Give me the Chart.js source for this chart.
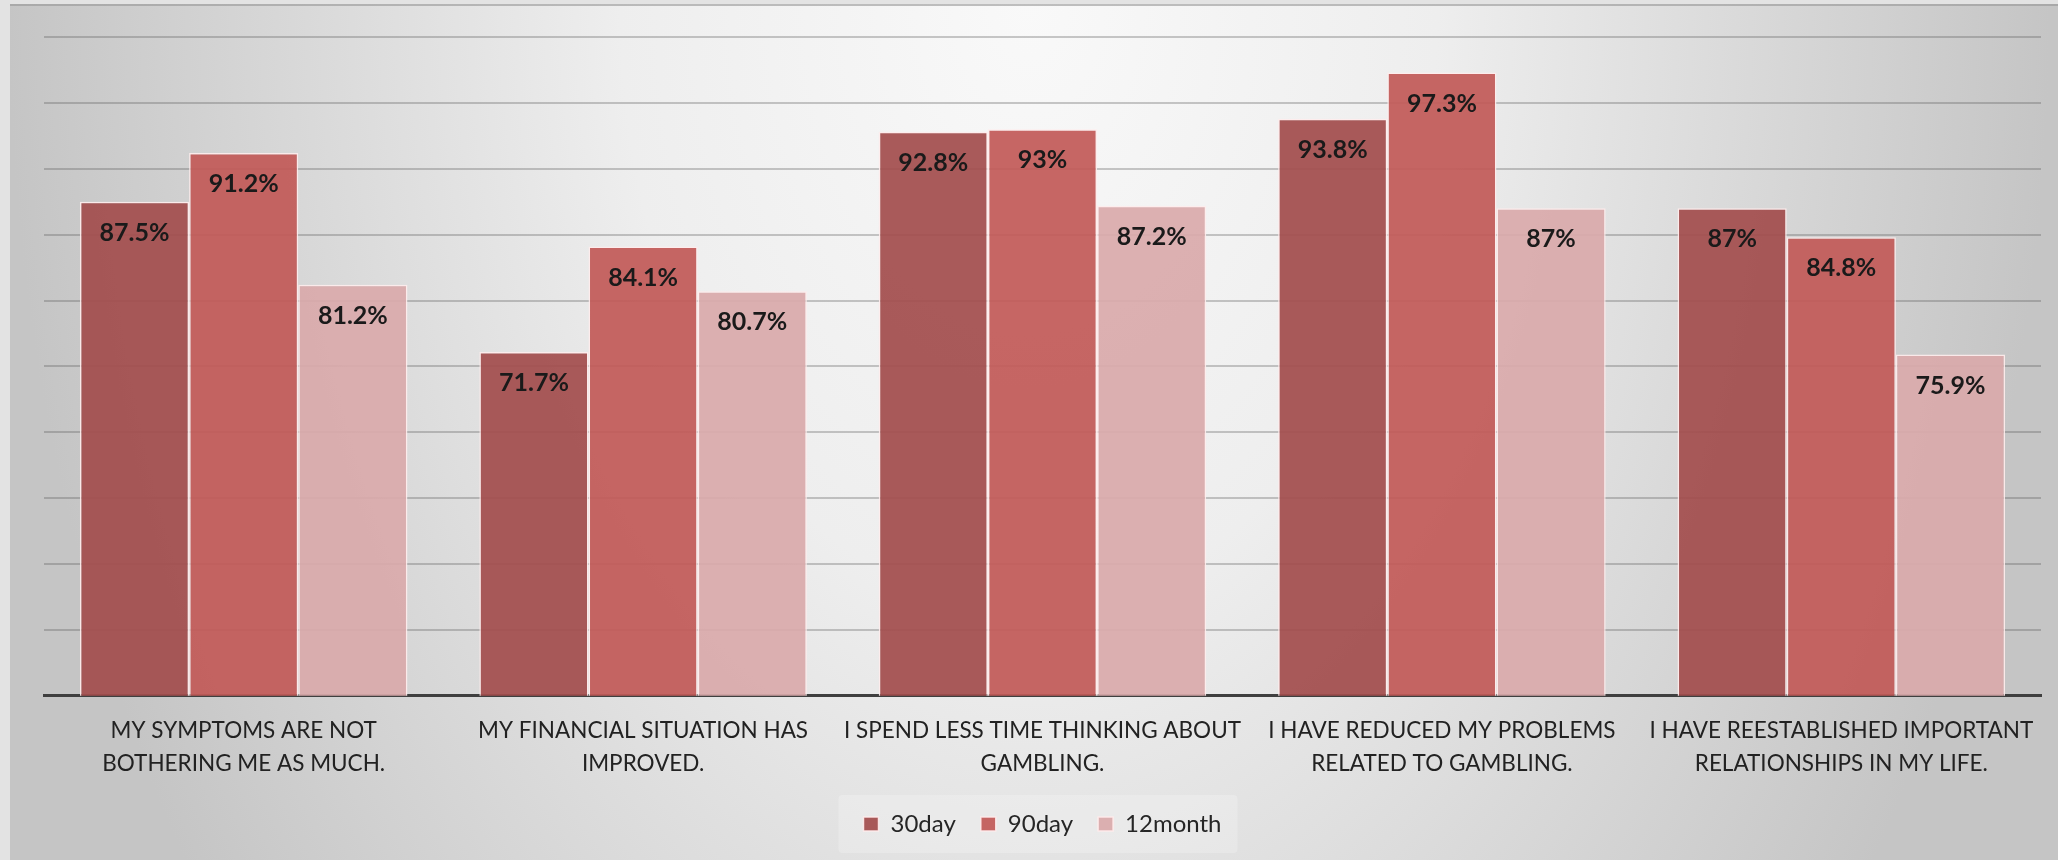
<!DOCTYPE html>
<html>
<head>
<meta charset="utf-8">
<title>Outcomes by follow-up</title>
<script src="https://cdn.jsdelivr.net/npm/chart.js@4/dist/chart.umd.min.js"></script>
<style>
  html, body { margin: 0; padding: 0; background: #e3e3e3; }
  canvas { display: block; }
</style>
</head>
<body>
<canvas id="outcomeChart" width="2058" height="860"></canvas>
<script>
// Categories (x axis, two lines each)
const categories = [
    ['MY SYMPTOMS ARE NOT', 'BOTHERING ME AS MUCH.'],
    ['MY FINANCIAL SITUATION HAS', 'IMPROVED.'],
    ['I SPEND LESS TIME THINKING ABOUT', 'GAMBLING.'],
    ['I HAVE REDUCED MY PROBLEMS', 'RELATED TO GAMBLING.'],
    ['I HAVE REESTABLISHED IMPORTANT', 'RELATIONSHIPS IN MY LIFE.']
];

const seriesNames = ['30day', '90day', '12month'];

// Bar heights as drawn in the picture
const values30day = [87.5, 76.1, 92.8, 93.8, 87];
const values90day = [91.2, 84.1, 93, 97.3, 84.8];
const values12month = [81.2, 80.7, 87.2, 87, 75.9];

// Labels printed on the bars (the 71.7% bar is drawn taller than its label)
const labels30day = ['87.5%', '71.7%', '92.8%', '93.8%', '87%'];
const labels90day = ['91.2%', '84.1%', '93%', '97.3%', '84.8%'];
const labels12month = ['81.2%', '80.7%', '87.2%', '87%', '75.9%'];

// Value axis
const yMin = 50;
const yMax = 100;
const yStep = 5;

const seriesColors = ['rgba(163, 78, 78, 0.93)', 'rgba(194, 90, 88, 0.93)', 'rgba(217, 170, 171, 0.93)'];
const barLabels = [labels30day, labels90day, labels12month];

// Grey gradient panel behind everything
const panelBackground = {
    id: 'panelBackground',
    beforeDraw(chart) {
        const ctx = chart.ctx;
        const w = chart.width, h = chart.height;
        ctx.save();
        ctx.fillStyle = '#e3e3e3';
        ctx.fillRect(0, 0, w, h);

        ctx.save();
        ctx.beginPath();
        ctx.rect(10, 4, w - 10, h - 4);
        ctx.clip();
        ctx.translate(w / 2, 0);
        ctx.scale(1, 1.5);
        const grad = ctx.createRadialGradient(0, 0, 0, 0, 0, w / 2 - 8);
        grad.addColorStop(0, '#f9f9f9');
        grad.addColorStop(0.4, '#eeeeee');
        grad.addColorStop(1, '#c5c5c5');
        ctx.fillStyle = grad;
        ctx.fillRect(-w, -10, w * 2, h);
        ctx.restore();

        // thin top edge of the panel
        ctx.fillStyle = 'rgba(150, 150, 150, 0.6)';
        ctx.fillRect(10, 4, w - 10, 2);

        // soft box behind the legend
        const boxes = chart.legend && chart.legend.legendHitBoxes;
        if (boxes && boxes.length) {
            const left = Math.min(...boxes.map(b => b.left)) - 25;
            const right = Math.max(...boxes.map(b => b.left + b.width)) + 16;
            const top = boxes[0].top - 17;
            const bottom = boxes[0].top + boxes[0].height + 17;
            ctx.fillStyle = 'rgba(255, 255, 255, 0.22)';
            ctx.beginPath();
            ctx.roundRect(left, top, right - left, bottom - top, 4);
            ctx.fill();
        }
        ctx.restore();
    }
};

// Percent labels just inside the top of each bar
const barValueLabels = {
    id: 'barValueLabels',
    afterDatasetsDraw(chart) {
        const ctx = chart.ctx;
        ctx.save();
        ctx.font = 'bold 25px Lato';
        ctx.fillStyle = '#1a1a1a';
        ctx.textAlign = 'center';
        ctx.textBaseline = 'middle';
        chart.data.datasets.forEach((ds, i) => {
            chart.getDatasetMeta(i).data.forEach((bar, j) => {
                ctx.fillText(barLabels[i][j], bar.x, bar.y + 31);
            });
        });
        ctx.restore();
    }
};

const ctx = document.getElementById('outcomeChart').getContext('2d');
const outcomeChart = new Chart(ctx, {
    type: 'bar',
    data: {
        labels: categories,
        datasets: [
            { label: seriesNames[0], data: values30day, backgroundColor: seriesColors[0] },
            { label: seriesNames[1], data: values90day, backgroundColor: seriesColors[1] },
            { label: seriesNames[2], data: values12month, backgroundColor: seriesColors[2] }
        ]
    },
    options: {
        responsive: false,
        animation: false,
        devicePixelRatio: 1,
        layout: { padding: { left: 44, right: 17, top: 37, bottom: 14 } },
        datasets: {
            bar: {
                categoryPercentage: 0.82,
                barPercentage: 1.0,
                borderColor: 'rgba(255, 236, 236, 0.9)',
                borderWidth: 1.5
            }
        },
        scales: {
            x: {
                z: 1,
                grid: { display: false },
                border: { display: true, color: '#3f3f3f', width: 3 },
                ticks: {
                    autoSkip: false,
                    maxRotation: 0,
                    padding: 10,
                    color: '#222222',
                    font: { family: 'Lato', size: 22.5, lineHeight: 1.47 }
                },
                // labels sit close to the legend, so give back some height
                afterFit(scale) {
                    scale.height -= 3;
                }
            },
            y: {
                min: yMin,
                max: yMax,
                ticks: { display: false, stepSize: yStep },
                border: { display: false },
                grid: { color: 'rgba(90, 90, 90, 0.32)', lineWidth: 2, drawTicks: false }
            }
        },
        plugins: {
            legend: {
                position: 'bottom',
                labels: {
                    boxWidth: 15,
                    boxHeight: 14,
                    padding: 25,
                    color: '#262626',
                    font: { family: 'Lato', size: 24 }
                }
            },
            tooltip: { enabled: false }
        }
    },
    plugins: [panelBackground, barValueLabels]
});
</script>
</body>
</html>
